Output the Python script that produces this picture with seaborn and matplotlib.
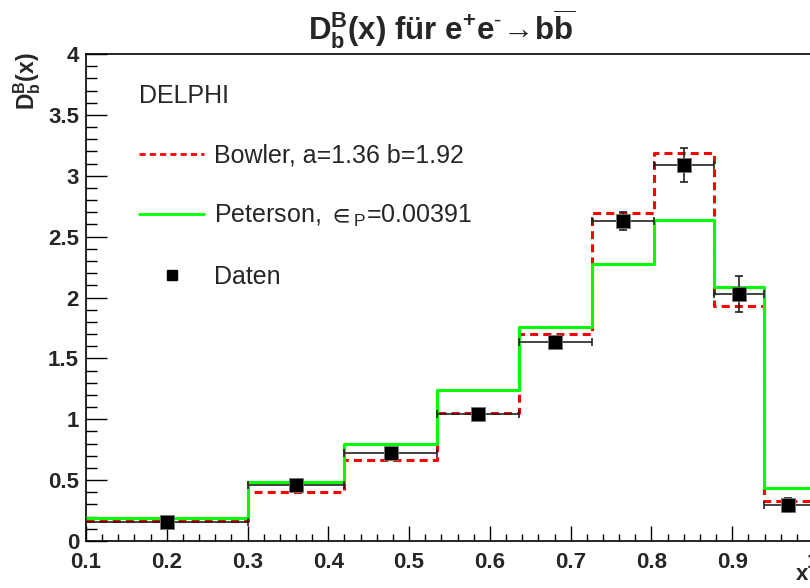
import numpy as np
import pandas as pd
import matplotlib
matplotlib.use("Agg")
import matplotlib.pyplot as plt
from matplotlib.lines import Line2D
from matplotlib.ticker import MultipleLocator, FixedLocator, FixedFormatter
import seaborn as sns

# Bin edges in x and the per-bin fragmentation function values
bin_edges = [0.1, 0.3, 0.42, 0.535, 0.636, 0.726, 0.803, 0.877, 0.939, 1.0]
bowler_vals = [0.167, 0.400, 0.665, 1.055, 1.698, 2.692, 3.190, 1.930, 0.329]
peterson_vals = [0.192, 0.487, 0.797, 1.243, 1.760, 2.278, 2.637, 2.089, 0.433]
data_vals = [0.159, 0.457, 0.725, 1.045, 1.634, 2.628, 3.090, 2.031, 0.296]
data_errs = [0.030, 0.030, 0.030, 0.040, 0.040, 0.072, 0.138, 0.148, 0.056]

x_ticks = [0.1, 0.2, 0.3, 0.4, 0.5, 0.6, 0.7, 0.8, 0.9, 1.0]
x_ticklabels = ["0.1", "0.2", "0.3", "0.4", "0.5", "0.6", "0.7", "0.8", "0.9", "1"]
y_ticks = [0, 0.5, 1, 1.5, 2, 2.5, 3, 3.5, 4]
y_ticklabels = ["0", "0.5", "1", "1.5", "2", "2.5", "3", "3.5", "4"]

sns.set_style("white")
plt.rcParams["font.family"] = ["Liberation Sans", "DejaVu Sans"]
plt.rcParams["mathtext.fontset"] = "custom"
plt.rcParams["mathtext.rm"] = "Liberation Sans"
plt.rcParams["mathtext.bf"] = "Liberation Sans:bold"
plt.rcParams["mathtext.it"] = "Liberation Sans:italic"
plt.rcParams["mathtext.sf"] = "Liberation Sans"
plt.rcParams["mathtext.fallback"] = "stixsans"

edges = np.array(bin_edges)
centers = 0.5 * (edges[:-1] + edges[1:])
half_w = 0.5 * np.diff(edges)

df = pd.DataFrame({"x": centers, "bowler": bowler_vals,
                   "peterson": peterson_vals, "data": data_vals})

W, H = 810, 588
fig = plt.figure(figsize=(W / 100, H / 100), dpi=100)
ax = fig.add_axes([86 / W, (H - 541) / H, (813 - 86) / W, (541 - 54) / H])

# Model curves as step histograms
sns.histplot(data=df, x="x", weights="bowler", bins=list(bin_edges), element="step",
             fill=False, color="#ff0000", linewidth=2.2,
             linestyle=(0, (2.6, 1.7)), ax=ax, zorder=3)
sns.histplot(data=df, x="x", weights="peterson", bins=list(bin_edges), element="step",
             fill=False, color="#00ff00", linewidth=2.2, ax=ax, zorder=4)

# Measured points with bin-width and statistical error bars
ax.errorbar(centers, data_vals, xerr=half_w, yerr=data_errs, fmt="none",
            ecolor="#222222", elinewidth=1.2, capsize=3, capthick=1.2, zorder=5)
sns.scatterplot(data=df, x="x", y="data", marker="s", s=100, color="black",
                edgecolor="#777777", linewidth=0.6, ax=ax, zorder=6)

ax.set_xlim(0.1, 1.0)
ax.set_ylim(0, 4)
ax.set_xlabel("")
ax.set_ylabel("")

ax.xaxis.set_major_locator(FixedLocator(x_ticks))
ax.xaxis.set_major_formatter(FixedFormatter(x_ticklabels))
ax.yaxis.set_major_locator(FixedLocator(y_ticks))
ax.yaxis.set_major_formatter(FixedFormatter(y_ticklabels))
ax.xaxis.set_minor_locator(MultipleLocator(0.02))
ax.yaxis.set_minor_locator(MultipleLocator(0.1))
ax.tick_params(axis="both", which="both", direction="in", top=False, right=False,
               bottom=True, left=True, color="black", width=1.0)
ax.tick_params(axis="x", which="major", length=10.5, pad=8, labelsize=16)
ax.tick_params(axis="x", which="minor", length=5)
ax.tick_params(axis="y", which="major", length=15, pad=5, labelsize=16)
ax.tick_params(axis="y", which="minor", length=8)
for lab in ax.get_xticklabels() + ax.get_yticklabels():
    lab.set_fontweight("bold")
for sp in ax.spines.values():
    sp.set_visible(True)
    sp.set_color("black")
    sp.set_linewidth(1.2)

# Legend with experiment name as header
handles = [
    Line2D([], [], color="#ff0000", linewidth=2.0, linestyle=(0, (2.2, 1.5))),
    Line2D([], [], color="#00ff00", linewidth=2.0),
    Line2D([], [], color="black", marker="s", markersize=7.5, linestyle="none"),
]
labels = ["Bowler, a=1.36 b=1.92", "Peterson, $\\in_{\\mathrm{P}}$=0.00391", "Daten"]
leg = ax.legend(handles, labels, title="DELPHI", loc="upper left",
                bbox_to_anchor=(139 / W, 1 - 84 / H), bbox_transform=fig.transFigure,
                frameon=False, fontsize=18, title_fontsize=18,
                handlelength=2.6, handletextpad=0.42, labelspacing=1.42,
                borderpad=0.0, borderaxespad=0.0)
leg._legend_box.align = "left"

fig.text(442 / W, 1 - 29 / H,
         r"$\mathbf{D_{b}^{B}(x)}$ für e$^{\mathbf{+}}$e$^{\text{-}}$"
         r"$\!\mathbf{\rightarrow}\!$b$\mathbf{\overline{b}}$",
         ha="center", va="center", fontsize=22.5, fontweight="bold")
fig.text(27 / W, 1 - 52 / H, r"$\mathbf{D_{b}^{B}(x)}$", rotation=90,
         ha="center", va="top", fontsize=16.5, fontweight="bold")
fig.text(808 / W, 3 / H, "x", ha="right", va="bottom",
         fontsize=16, fontweight="bold")

fig.savefig("out.png", dpi=100)
